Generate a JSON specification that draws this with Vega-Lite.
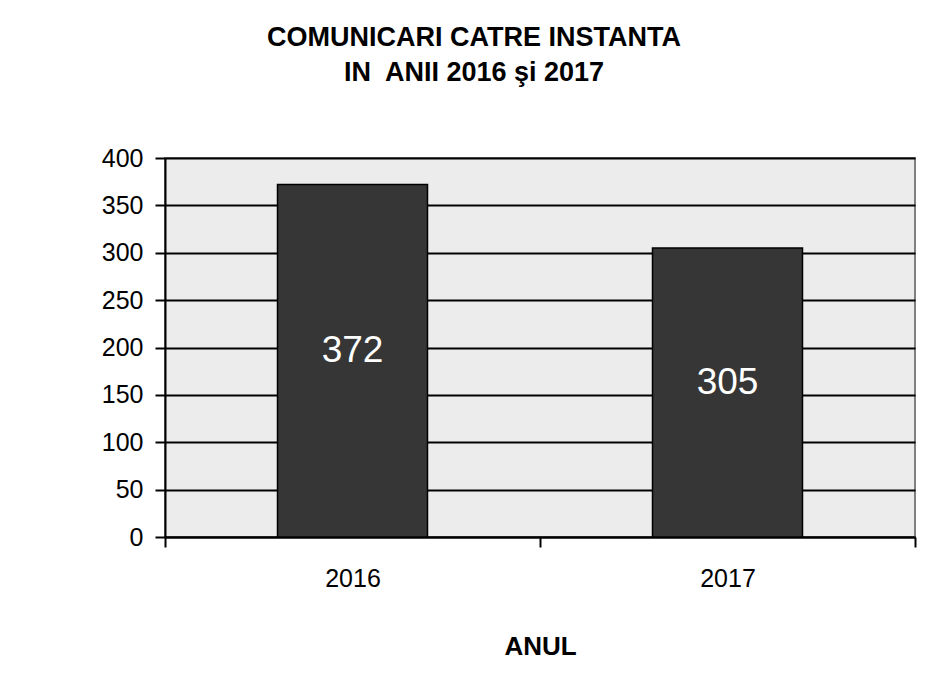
{
  "$schema": "https://vega.github.io/schema/vega-lite/v6.json",
  "width": 750,
  "height": 379,
  "autosize": {"type": "none"},
  "padding": {"left": 165, "top": 158, "right": 29, "bottom": 144},
  "background": "white",
  "title": {
    "text": ["COMUNICARI CATRE INSTANTA", "IN\u00a0 ANII 2016 şi 2017"],
    "font": "Liberation Sans",
    "fontSize": 27,
    "fontWeight": "bold",
    "color": "black",
    "lineHeight": 35,
    "anchor": "middle",
    "dx": -66,
    "offset": 59
  },
  "data": {
    "values": [
      {"anul": "2016", "valoare": 372},
      {"anul": "2017", "valoare": 305}
    ]
  },
  "encoding": {
    "x": {
      "field": "anul",
      "type": "ordinal",
      "scale": {"paddingInner": 0, "paddingOuter": 0},
      "axis": {
        "title": "ANUL",
        "titleFont": "Liberation Sans",
        "titleFontSize": 26,
        "titleFontWeight": "bold",
        "titleColor": "black",
        "titlePadding": 42,
        "labelAngle": 0,
        "labelFont": "Liberation Sans",
        "labelFontSize": 25,
        "labelColor": "black",
        "labelPadding": 19,
        "tickBand": "extent",
        "tickSize": 10,
        "tickColor": "black",
        "tickWidth": 2,
        "domainColor": "black",
        "domainWidth": 2
      }
    }
  },
  "layer": [
    {
      "mark": {"type": "bar", "size": 150, "color": "#363636", "stroke": "black", "strokeWidth": 1.5},
      "encoding": {
        "y": {
          "field": "valoare",
          "type": "quantitative",
          "scale": {"domain": [0, 400]},
          "axis": {
            "title": null,
            "values": [0, 50, 100, 150, 200, 250, 300, 350, 400],
            "labelFont": "Liberation Sans",
            "labelFontSize": 25,
            "labelColor": "black",
            "labelPadding": 12,
            "tickSize": 10,
            "tickColor": "black",
            "tickWidth": 2,
            "domainColor": "black",
            "domainWidth": 2,
            "grid": true,
            "gridColor": "black",
            "gridWidth": 2,
            "gridOpacity": 1
          }
        }
      }
    },
    {
      "transform": [{"calculate": "datum.valoare / 2", "as": "mid"}],
      "mark": {"type": "text", "font": "Liberation Sans", "fontSize": 37, "color": "white", "baseline": "middle", "dy": -10},
      "encoding": {
        "y": {"field": "mid", "type": "quantitative"},
        "text": {"field": "valoare", "type": "quantitative"}
      }
    }
  ],
  "config": {
    "view": {"fill": "#ececec", "stroke": "#808080", "strokeWidth": 2}
  }
}
